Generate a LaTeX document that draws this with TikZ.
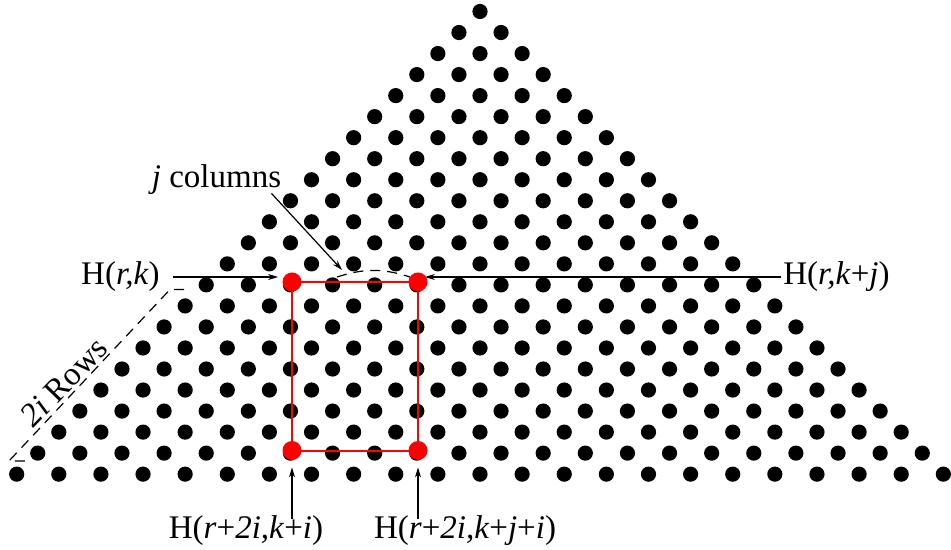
\documentclass[tikz,border=0pt]{standalone}
\usepackage{fontspec}
\setmainfont{Liberation Serif}
\usetikzlibrary{arrows.meta}

\begin{document}
\begin{tikzpicture}[x=0.5pt, y=-0.5pt,
  every node/.style={font=\fontsize{16.5}{20}\selectfont, inner sep=1pt},
  reddot/.style={circle, fill=red, inner sep=0pt, minimum size=9.5pt},
  redline/.style={red, line width=1pt},
  pointer/.style={-{Stealth[length=5pt, width=3pt]}, line width=0.6pt},
  guide/.style={line width=0.6pt, dash pattern=on 5pt off 3.5pt}]
  \useasboundingbox (0,0) rectangle (951,550);
  % Triangle of dots
  \foreach \r in {0,...,22}
    \foreach \m in {0,...,\r}
      \fill (480+42.12*\m-21.06*\r, 11.5+21.03*\r) circle[radius=3.8pt];
  % Red corners and block
  \node[reddot] (hrk) at (292,282) {};
  \node[reddot] (hrkj) at (418,282) {};
  \node[reddot] (hrki) at (292,450.5) {};
  \node[reddot] (hrkji) at (418,450.5) {};
  \draw[redline] (hrk.center) -- (hrkj.center) -- (hrkji.center) -- (hrki.center) -- cycle;
  % Column span
  \coordinate (arcL) at (337,277);
  \coordinate (arcR) at (410,277);
  \coordinate (coltip) at (342,270);
  \draw[guide] (arcL) to[bend left=18] (arcR);
  \node[anchor=base] (lblj) at (216.5,188) {\textit{j} columns};
  \draw[pointer] ([xshift=-6pt, yshift=2pt]lblj.south east) -- (coltip);
  % Row span
  \draw[guide] (184,289.5) -- (170,289.5) -- (9,461) -- (26,461);
  \node[rotate=46] (lblrows) at (64,382) {\textit{2i} Rows};
  % Top labels
  \node[anchor=east] (lblrk) at (162,277) {H(\textit{r,k})};
  \draw[pointer, shorten <=5.5pt, shorten >=2pt] (lblrk.east) -- (hrk.west |- lblrk.east);
  \node[anchor=west] (lblrkj) at (781,277) {H(\textit{r,k}+\textit{j})};
  \draw[pointer, shorten >=-1.5pt] (lblrkj.west) -- (hrkj.east |- lblrkj.west);
  % Bottom labels
  \node[anchor=base] (lblrki) at (246,538) {H(\textit{r}+\textit{2i,k}+\textit{i})};
  \draw[pointer, shorten <=-3pt, shorten >=3.5pt] (lblrki.north -| hrki) -- (hrki.south);
  \node[anchor=base] (lblrkji) at (465,538) {H(\textit{r}+\textit{2i,k}+\textit{j}+\textit{i})};
  \draw[pointer, shorten <=-3pt, shorten >=3.5pt] (lblrkji.north -| hrkji) -- (hrkji.south);
\end{tikzpicture}
\end{document}
